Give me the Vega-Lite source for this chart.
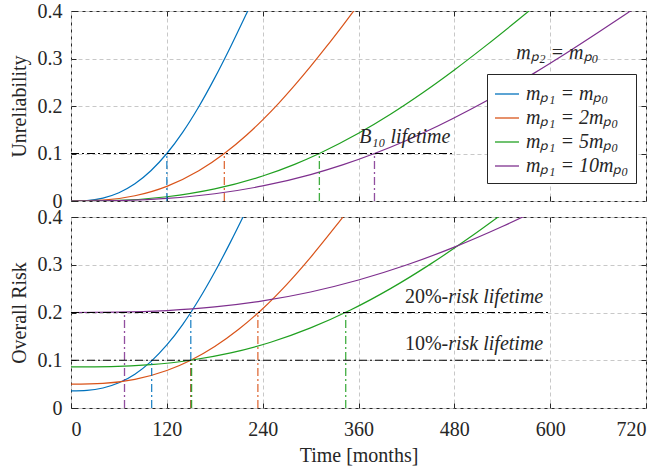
{
  "$schema": "https://vega.github.io/schema/vega-lite/v6.json",
  "padding": {"left": 8, "top": 0, "right": 0, "bottom": 4},
  "background": "white",
  "spacing": 16,
  "bounds": "flush",
  "config": {
    "font": "Liberation Serif",
    "view": {"stroke": "#262626", "strokeWidth": 1},
    "axis": {
      "labelFont": "Liberation Serif", "titleFont": "Liberation Serif",
      "labelFontSize": 20, "titleFontSize": 20, "titleFontWeight": "normal",
      "labelColor": "#262626", "titleColor": "#262626",
      "gridColor": "#c8c8c8", "gridDash": [4, 3], "gridWidth": 1,
      "domain": false, "tickColor": "#262626", "tickSize": -5, "labelPadding": 14
    }
  },
  "resolve": {"legend": {"color": "independent"}},
  "datasets": {
    "unrel": [
      {"k": 1, "t": 0, "v": 0}, {"k": 1, "t": 20, "v": 0.001}, {"k": 1, "t": 40, "v": 0.0062}, {"k": 1, "t": 60, "v": 0.0175}, {"k": 1, "t": 80, "v": 0.0363}, {"k": 1, "t": 100, "v": 0.0637}, {"k": 1, "t": 120, "v": 0.1}, {"k": 1, "t": 140, "v": 0.1451}, {"k": 1, "t": 160, "v": 0.1985}, {"k": 1, "t": 180, "v": 0.2592}, {"k": 1, "t": 200, "v": 0.3254}, {"k": 1, "t": 220, "v": 0.3955}, {"k": 1, "t": 240, "v": 0.4674},
      {"k": 2, "t": 0, "v": 0}, {"k": 2, "t": 40, "v": 0.0018}, {"k": 2, "t": 80, "v": 0.011}, {"k": 2, "t": 120, "v": 0.0309}, {"k": 2, "t": 160, "v": 0.0637}, {"k": 2, "t": 192, "v": 0.1}, {"k": 2, "t": 220, "v": 0.139}, {"k": 2, "t": 240, "v": 0.1709}, {"k": 2, "t": 260, "v": 0.2057}, {"k": 2, "t": 280, "v": 0.2434}, {"k": 2, "t": 300, "v": 0.2834}, {"k": 2, "t": 320, "v": 0.3254}, {"k": 2, "t": 340, "v": 0.3689}, {"k": 2, "t": 360, "v": 0.4134},
      {"k": 5, "t": 0, "v": 0}, {"k": 5, "t": 60, "v": 0.0015}, {"k": 5, "t": 120, "v": 0.009}, {"k": 5, "t": 180, "v": 0.0254}, {"k": 5, "t": 240, "v": 0.0526}, {"k": 5, "t": 280, "v": 0.0772}, {"k": 5, "t": 311, "v": 0.1}, {"k": 5, "t": 360, "v": 0.1425}, {"k": 5, "t": 400, "v": 0.1827}, {"k": 5, "t": 440, "v": 0.2274}, {"k": 5, "t": 480, "v": 0.2759}, {"k": 5, "t": 520, "v": 0.3276}, {"k": 5, "t": 560, "v": 0.3815}, {"k": 5, "t": 600, "v": 0.4368},
      {"k": 10, "t": 0, "v": 0}, {"k": 10, "t": 60, "v": 0.0009}, {"k": 10, "t": 120, "v": 0.0054}, {"k": 10, "t": 180, "v": 0.0152}, {"k": 10, "t": 240, "v": 0.0317}, {"k": 10, "t": 300, "v": 0.0556}, {"k": 10, "t": 340, "v": 0.076}, {"k": 10, "t": 380, "v": 0.1}, {"k": 10, "t": 420, "v": 0.1275}, {"k": 10, "t": 460, "v": 0.1584}, {"k": 10, "t": 500, "v": 0.1926}, {"k": 10, "t": 540, "v": 0.2296}, {"k": 10, "t": 580, "v": 0.2692}, {"k": 10, "t": 620, "v": 0.311}, {"k": 10, "t": 660, "v": 0.3546}, {"k": 10, "t": 700, "v": 0.3993}, {"k": 10, "t": 720, "v": 0.4218}
    ],
    "risk": [
      {"k": 1, "t": 0, "v": 0.036}, {"k": 1, "t": 20, "v": 0.037}, {"k": 1, "t": 40, "v": 0.0419}, {"k": 1, "t": 60, "v": 0.0528}, {"k": 1, "t": 80, "v": 0.0709}, {"k": 1, "t": 100, "v": 0.0971}, {"k": 1, "t": 120, "v": 0.132}, {"k": 1, "t": 140, "v": 0.1753}, {"k": 1, "t": 150, "v": 0.2}, {"k": 1, "t": 160, "v": 0.2266}, {"k": 1, "t": 180, "v": 0.2847}, {"k": 1, "t": 200, "v": 0.3484}, {"k": 1, "t": 220, "v": 0.4158},
      {"k": 2, "t": 0, "v": 0.05}, {"k": 2, "t": 40, "v": 0.0517}, {"k": 2, "t": 80, "v": 0.0601}, {"k": 2, "t": 120, "v": 0.0785}, {"k": 2, "t": 150, "v": 0.1}, {"k": 2, "t": 180, "v": 0.1288}, {"k": 2, "t": 210, "v": 0.1648}, {"k": 2, "t": 240, "v": 0.2079}, {"k": 2, "t": 270, "v": 0.2585}, {"k": 2, "t": 300, "v": 0.3155}, {"k": 2, "t": 330, "v": 0.3775}, {"k": 2, "t": 360, "v": 0.442},
      {"k": 5, "t": 0, "v": 0.086}, {"k": 5, "t": 50, "v": 0.0868}, {"k": 5, "t": 100, "v": 0.0909}, {"k": 5, "t": 150, "v": 0.1}, {"k": 5, "t": 200, "v": 0.1153}, {"k": 5, "t": 250, "v": 0.1377}, {"k": 5, "t": 300, "v": 0.1677}, {"k": 5, "t": 350, "v": 0.2052}, {"k": 5, "t": 400, "v": 0.25}, {"k": 5, "t": 450, "v": 0.3013}, {"k": 5, "t": 500, "v": 0.358}, {"k": 5, "t": 550, "v": 0.4187},
      {"k": 10, "t": 0, "v": 0.2}, {"k": 10, "t": 60, "v": 0.2007}, {"k": 10, "t": 120, "v": 0.2041}, {"k": 10, "t": 180, "v": 0.2116}, {"k": 10, "t": 240, "v": 0.2244}, {"k": 10, "t": 300, "v": 0.243}, {"k": 10, "t": 360, "v": 0.268}, {"k": 10, "t": 420, "v": 0.2994}, {"k": 10, "t": 480, "v": 0.3369}, {"k": 10, "t": 540, "v": 0.38}, {"k": 10, "t": 600, "v": 0.4279}
    ],
    "vtop": [
      {"k": 1, "t": 120, "v0": 0, "v": 0.1}, {"k": 2, "t": 192, "v0": 0, "v": 0.1}, {"k": 5, "t": 311, "v0": 0, "v": 0.1}, {"k": 10, "t": 380, "v0": 0, "v": 0.1}
    ],
    "vrisk": [
      {"k": 10, "t": 67, "v0": 0, "v": 0.2}, {"k": 1, "t": 101, "v0": 0, "v": 0.1}, {"k": 1, "t": 150, "v0": 0, "v": 0.2}, {"k": 2, "t": 150, "v0": 0, "v": 0.1}, {"k": 5, "t": 151, "v0": 0, "v": 0.1}, {"k": 2, "t": 234, "v0": 0, "v": 0.2}, {"k": 5, "t": 344, "v0": 0, "v": 0.2}
    ],
    "htop": [{"t0": 0, "t1": 480, "v": 0.1}],
    "hrisk": [{"t0": 0, "t1": 600, "v": 0.2}, {"t0": 0, "t1": 600, "v": 0.1}],
    "notesTop": [
      {"t": 418, "v": 0.122, "txt": "B₁₀ lifetime"},
      {"t": 609, "v": 0.298, "txt": "mₚ₂ = mₚ₀"}
    ],
    "pctRisk": [{"t": 464, "v": 0.22, "txt": "20%"}, {"t": 464, "v": 0.121, "txt": "10%"}],
    "lblRisk": [{"t": 464, "v": 0.22, "txt": "-risk lifetime"}, {"t": 464, "v": 0.121, "txt": "-risk lifetime"}]
  },
  "vconcat": [
    {
      "width": 575,
      "height": 190,
      "resolve": {"axis": {"x": "independent", "y": "independent"}},
      "layer": [
        {
          "data": {"name": "unrel"},
          "mark": {"type": "line", "clip": true, "strokeWidth": 1.2, "interpolate": "monotone"},
          "encoding": {
            "x": {"field": "t", "type": "quantitative", "scale": {"domain": [0, 720], "nice": false}, "axis": {"values": [0, 120, 240, 360, 480, 600, 720], "labels": false, "title": null}},
            "y": {"field": "v", "type": "quantitative", "scale": {"domain": [0, 0.4], "nice": false}, "axis": {"values": [0, 0.1, 0.2, 0.3, 0.4], "format": ".1~f", "title": "Unreliability", "titlePadding": 8}},
            "color": {
              "field": "k", "type": "nominal",
              "scale": {"domain": [1, 2, 5, 10], "range": ["#0072BD", "#D95319", "#20A020", "#7E2F8E"]},
              "legend": {
                "title": null, "orient": "none", "legendX": 416, "legendY": 63,
                "labelExpr": "datum.label == '1' ? 'mₚ₁ = mₚ₀' : 'mₚ₁ = ' + datum.label + 'mₚ₀'",
                "labelFont": "Liberation Serif", "labelFontSize": 20, "labelFontStyle": "italic", "labelColor": "#262626",
                "symbolType": "stroke", "symbolSize": 576, "symbolStrokeWidth": 1.5,
                "strokeColor": "#262626", "fillColor": "white", "padding": 7, "rowPadding": 1, "labelOffset": 6, "labelLimit": 300, "cornerRadius": 0
              }
            }
          }
        },
        {
          "data": {"name": "vtop"},
          "mark": {"type": "rule", "strokeDash": [8, 3, 2, 3], "strokeWidth": 1.3, "opacity": 0.85},
          "encoding": {
            "x": {"field": "t", "type": "quantitative", "axis": null},
            "y": {"field": "v0", "type": "quantitative", "axis": null},
            "y2": {"field": "v"},
            "color": {"field": "k", "type": "nominal"}
          }
        },
        {
          "data": {"name": "htop"},
          "mark": {"type": "rule", "color": "black", "strokeDash": [8, 3, 2, 3], "strokeWidth": 1.2},
          "encoding": {
            "x": {"field": "t0", "type": "quantitative", "axis": {"orient": "top", "values": [120, 240, 360, 480, 600], "labels": false, "grid": false, "title": null}},
            "x2": {"field": "t1"},
            "y": {"field": "v", "type": "quantitative", "axis": {"orient": "right", "values": [0.1, 0.2, 0.3], "labels": false, "grid": false, "title": null}}
          }
        },
        {
          "data": {"name": "notesTop"},
          "mark": {"type": "text", "font": "Liberation Serif", "fontSize": 20, "fontStyle": "italic", "align": "center", "baseline": "alphabetic", "color": "#262626"},
          "encoding": {
            "x": {"field": "t", "type": "quantitative", "axis": null},
            "y": {"field": "v", "type": "quantitative", "axis": null},
            "text": {"field": "txt"}
          }
        }
      ]
    },
    {
      "width": 575,
      "height": 191,
      "resolve": {"axis": {"x": "independent", "y": "independent"}},
      "layer": [
        {
          "data": {"name": "risk"},
          "mark": {"type": "line", "clip": true, "strokeWidth": 1.2, "interpolate": "monotone"},
          "encoding": {
            "x": {"field": "t", "type": "quantitative", "scale": {"domain": [0, 720], "nice": false}, "axis": {"values": [0, 120, 240, 360, 480, 600, 720], "title": "Time [months]", "titlePadding": 6, "labelPadding": 16}},
            "y": {"field": "v", "type": "quantitative", "scale": {"domain": [0, 0.4], "nice": false}, "axis": {"values": [0, 0.1, 0.2, 0.3, 0.4], "format": ".1~f", "title": "Overall Risk", "titlePadding": 8}},
            "color": {"field": "k", "type": "nominal", "scale": {"domain": [1, 2, 5, 10], "range": ["#0072BD", "#D95319", "#20A020", "#7E2F8E"]}, "legend": null}
          }
        },
        {
          "data": {"name": "vrisk"},
          "mark": {"type": "rule", "strokeDash": [8, 3, 2, 3], "strokeWidth": 1.3, "opacity": 0.85},
          "encoding": {
            "x": {"field": "t", "type": "quantitative", "axis": null},
            "y": {"field": "v0", "type": "quantitative", "axis": null},
            "y2": {"field": "v"},
            "color": {"field": "k", "type": "nominal", "legend": null}
          }
        },
        {
          "data": {"name": "hrisk"},
          "mark": {"type": "rule", "color": "black", "strokeDash": [8, 3, 2, 3], "strokeWidth": 1.2},
          "encoding": {
            "x": {"field": "t0", "type": "quantitative", "axis": {"orient": "top", "values": [120, 240, 360, 480, 600], "labels": false, "grid": false, "title": null}},
            "x2": {"field": "t1"},
            "y": {"field": "v", "type": "quantitative", "axis": {"orient": "right", "values": [0.1, 0.2, 0.3], "labels": false, "grid": false, "title": null}}
          }
        },
        {
          "data": {"name": "pctRisk"},
          "mark": {"type": "text", "font": "Liberation Serif", "fontSize": 20, "align": "right", "baseline": "alphabetic", "color": "#262626"},
          "encoding": {
            "x": {"field": "t", "type": "quantitative", "axis": null},
            "y": {"field": "v", "type": "quantitative", "axis": null},
            "text": {"field": "txt"}
          }
        },
        {
          "data": {"name": "lblRisk"},
          "mark": {"type": "text", "font": "Liberation Serif", "fontSize": 20, "fontStyle": "italic", "align": "left", "baseline": "alphabetic", "color": "#262626"},
          "encoding": {
            "x": {"field": "t", "type": "quantitative", "axis": null},
            "y": {"field": "v", "type": "quantitative", "axis": null},
            "text": {"field": "txt"}
          }
        }
      ]
    }
  ]
}
